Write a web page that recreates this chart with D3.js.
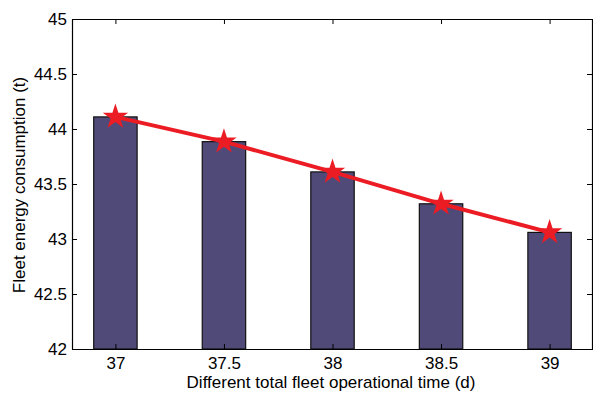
<!DOCTYPE html>
<html>
<meta charset="utf-8">
<style>
  body { margin: 0; background: #fff; }
  svg { width: 593px; height: 393px; display: block; }
  text { font-family: "Liberation Sans", Arial, sans-serif; fill: #000; }
  .axis path { fill: none; }
</style>
<body>
  <svg></svg>
</body>
<script src="https://cdn.jsdelivr.net/npm/d3@7"></script>
<script>

var times = [37, 37.5, 38, 38.5, 39];
var energy = [44.11, 43.885, 43.61, 43.32, 43.06];
var xTicks = [37, 37.5, 38, 38.5, 39];
var yTicks = [42, 42.5, 43, 43.5, 44, 44.5, 45];

var plotLeft = 72, plotRight = 593, plotTop = 19, plotBottom = 349;

var svg = d3.select("svg");

var xScale = d3.scaleLinear().domain([36.8, 39.2]).range([plotLeft, plotRight]);
var yScale = d3.scaleLinear().domain([42, 45]).range([plotBottom, plotTop]);

var barW = xScale(37.2) - xScale(37);

// bars
svg.selectAll("rect.bar")
  .data(times)
  .enter().append("rect")
    .attr("class", "bar")
    .attr("x", function(d) { return xScale(d) - barW / 2; })
    .attr("y", function(d, i) { return yScale(energy[i]); })
    .attr("width", barW)
    .attr("height", function(d, i) { return plotBottom - yScale(energy[i]); })
    .attr("fill", "#504a78")
    .attr("stroke", "#111")
    .attr("stroke-width", 1.2);

// line
var line = d3.line()
  .x(function(d, i) { return xScale(times[i]); })
  .y(function(d) { return yScale(d); });

svg.append("path")
  .datum(energy)
  .attr("d", line)
  .attr("fill", "none")
  .attr("stroke", "#ec1c24")
  .attr("stroke-width", 4);

// stars
var star = d3.symbol().type(d3.symbolStar).size(200);
svg.selectAll("path.star")
  .data(energy)
  .enter().append("path")
    .attr("class", "star")
    .attr("d", star)
    .attr("transform", function(d, i) {
      return "translate(" + xScale(times[i]) + "," + yScale(d) + ")";
    })
    .attr("fill", "#ec1c24");

// axes (box with inward ticks)
var xAxis = d3.axisBottom(xScale).tickValues(xTicks).tickSizeInner(-5).tickSizeOuter(0)
  .tickPadding(8).tickFormat(d3.format("~g"));
var xTop = d3.axisTop(xScale).tickValues(xTicks).tickSizeInner(-5).tickSizeOuter(0)
  .tickFormat("");
var yAxis = d3.axisLeft(yScale).tickValues(yTicks).tickSizeInner(-5).tickSizeOuter(0)
  .tickPadding(5).tickFormat(d3.format("~g"));
var yRight = d3.axisRight(yScale).tickValues(yTicks).tickSizeInner(-5).tickSizeOuter(0)
  .tickFormat("");

function style(g) {
  g.select(".domain").attr("stroke", "#000").attr("stroke-width", 1.2);
  g.selectAll(".tick line").attr("stroke", "#000");
  g.selectAll(".tick text").attr("font-size", 17)
    .attr("font-family", "'Liberation Sans', Arial, sans-serif").attr("fill", "#000");
}

svg.append("g").attr("class", "x axis")
  .attr("transform", "translate(0," + plotBottom + ")").call(xAxis).call(style);
svg.append("g").attr("class", "x axis")
  .attr("transform", "translate(0," + plotTop + ")").call(xTop).call(style);
svg.append("g").attr("class", "y axis")
  .attr("transform", "translate(" + plotLeft + ",0)").call(yAxis).call(style);
svg.append("g").attr("class", "y axis")
  .attr("transform", "translate(" + (plotRight - 1) + ",0)").call(yRight).call(style);

// labels
svg.append("text")
  .attr("x", 331)
  .attr("y", 388)
  .attr("text-anchor", "middle")
  .attr("font-size", 17)
  .text("Different total fleet operational time (d)");

svg.append("text")
  .attr("transform", "translate(25,185) rotate(-90)")
  .attr("text-anchor", "middle")
  .attr("font-size", 17)
  .text("Fleet energy consumption (t)");

</script>
</html>
